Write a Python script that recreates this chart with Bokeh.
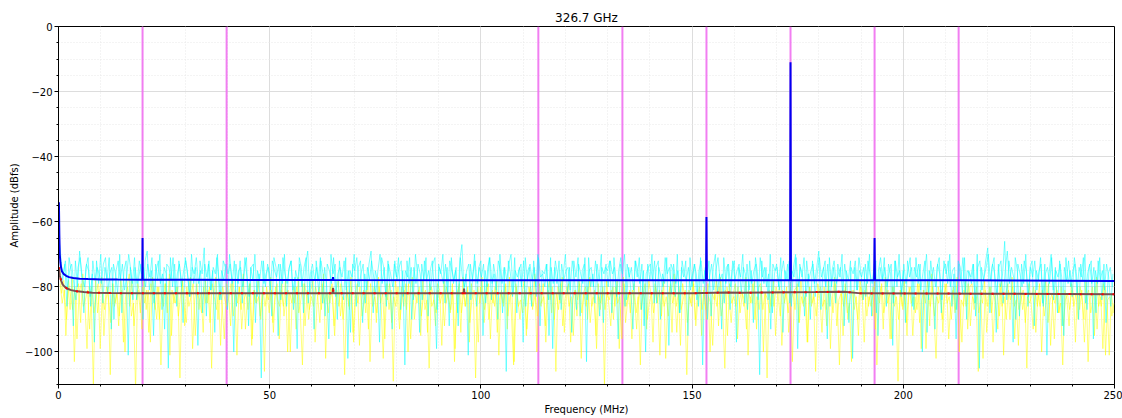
from bokeh.plotting import figure
from bokeh.models import FixedTicker, CustomJSTickFormatter, Range1d
from bokeh.embed import file_html
from bokeh.resources import INLINE

# ---------------- data ----------------
title_text = "326.7 GHz"
x_label = "Frequency (MHz)"
y_label = "Amplitude (dBfs)"
x_min, x_max = 0, 250
y_min, y_max = -110, 0
x_ticks = [0, 50, 100, 150, 200, 250]
y_ticks = [-100, -80, -60, -40, -20, 0]
noise_step = 0.5  # MHz between samples of each noisy trace

# noisy trace A (cyan), 10 MHz per row
cyan_vals = [
    -64, -70, -78, -73, -86, -71, -75, -92, -72, -80, -69, -77, -88, -74, -71, -83, -76, -97, -72, -79,
    -70, -85, -74, -78, -71, -93, -73, -76, -82, -70, -88, -75, -72, -101, -74, -79, -71, -84, -77, -73,
    -90, -72, -69, -81, -75, -95, -73, -78, -70, -87, -74, -76, -105, -71, -80, -73, -86, -72, -77, -91,
    -71, -75, -83, -70, -79, -74, -98, -72, -76, -68, -89, -73, -81, -75, -94, -71, -78, -84, -72, -74,
    -87, -70, -77, -100, -73, -79, -72, -85, -75, -71, -92, -74, -78, -70, -83, -76, -108, -72, -80, -73,
    -76, -89, -71, -74, -95, -73, -79, -70, -86, -75, -72, -81, -77, -99, -71, -74, -88, -73, -69, -82,
    -75, -93, -72, -78, -71, -85, -74, -80, -96, -70, -76, -73, -90, -72, -79, -84, -71, -102, -75, -77,
    -70, -86, -74, -72, -91, -76, -81, -73, -69, -88, -75, -78, -97, -71, -74, -83, -72, -80, -93, -73,
    -77, -71, -87, -75, -104, -72, -79, -74, -84, -70, -76, -94, -73, -78, -71, -89, -75, -72, -82, -99,
    -73, -76, -70, -85, -74, -92, -71, -79, -75, -88, -72, -67, -81, -76, -101, -73, -78, -70, -86, -74,
    -72, -95, -75, -80, -71, -84, -73, -77, -90, -70, -79, -74, -106, -72, -76, -83, -71, -88, -75, -73,
    -97, -71, -78, -74, -86, -72, -80, -70, -92, -75, -76, -73, -84, -71, -99, -74, -79, -72, -87, -76,
    -70, -82, -74, -94, -72, -77, -71, -89, -75, -73, -103, -71, -80, -76, -85, -73, -78, -70, -91, -74,
    -75, -72, -88, -71, -79, -96, -73, -76, -70, -84, -74, -81, -93, -72, -77, -71, -87, -75, -100, -73,
    -78, -70, -85, -74, -72, -90, -76, -79, -71, -98, -73, -75, -83, -70, -88, -74, -77, -72, -95, -71,
    -80, -73, -76, -86, -71, -104, -75, -78, -72, -89, -74, -70, -82, -76, -93, -71, -79, -73, -87, -75,
    -72, -97, -74, -77, -70, -85, -73, -81, -75, -91, -71, -76, -107, -72, -79, -74, -84, -70, -88, -76,
    -73, -80, -71, -94, -75, -78, -72, -86, -74, -70, -99, -73, -77, -71, -83, -76, -90, -72, -79, -74,
    -69, -87, -75, -72, -96, -71, -80, -74, -85, -73, -77, -70, -92, -75, -78, -72, -102, -74, -81, -71,
    -76, -84, -73, -79, -70, -89, -75, -72, -95, -74, -78, -71, -86, -73, -76, -98, -72, -80, -70, -83,
    -75, -91, -72, -77, -74, -87, -71, -79, -73, -100, -76, -70, -84, -72, -78, -93, -74, -71, -88, -75,
    -73, -79, -70, -86, -76, -96, -72, -74, -82, -71, -90, -75, -77, -73, -85, -70, -105, -74, -78, -72,
    -68, -88, -74, -71, -94, -73, -80, -76, -66, -84, -72, -77, -97, -71, -75, -89, -73, -79, -70, -86,
    -74, -72, -92, -75, -78, -71, -85, -73, -101, -76, -70, -81, -74, -88, -72, -77, -95, -71, -79, -75,
    -83, -71, -76, -90, -73, -78, -70, -87, -74, -72, -96, -75, -79, -71, -84, -73, -91, -76, -74, -80,
]
# noisy trace B (cyan), 10 MHz per row
cyan2_vals = [
    -68, -74, -76, -72, -81, -75, -73, -79, -84, -74, -71, -77, -80, -73, -75, -86, -72, -78, -74, -76,
    -79, -73, -71, -82, -76, -74, -90, -75, -72, -78, -73, -81, -77, -70, -75, -84, -74, -79, -72, -76,
    -74, -80, -73, -77, -71, -85, -75, -72, -79, -76, -93, -73, -74, -78, -71, -82, -76, -73, -80, -75,
    -72, -77, -83, -74, -76, -71, -79, -75, -88, -73, -77, -72, -81, -74, -76, -70, -84, -75, -78, -73,
    -76, -73, -79, -72, -86, -75, -74, -80, -71, -77, -83, -74, -73, -91, -75, -78, -72, -79, -76, -74,
    -81, -72, -75, -77, -73, -84, -71, -76, -79, -74, -72, -87, -75, -78, -73, -80, -74, -71, -85, -76,
    -73, -78, -74, -82, -72, -76, -89, -73, -75, -79, -71, -83, -76, -74, -77, -72, -81, -75, -94, -73,
    -75, -71, -80, -76, -73, -85, -74, -78, -72, -77, -82, -75, -70, -79, -74, -86, -73, -76, -80, -72,
    -78, -74, -72, -83, -75, -77, -71, -90, -74, -79, -73, -76, -84, -72, -78, -75, -81, -73, -71, -87,
    -74, -76, -79, -73, -82, -72, -75, -78, -74, -92, -71, -77, -80, -75, -73, -84, -76, -72, -79, -74,
    -77, -73, -85, -74, -71, -79, -76, -81, -72, -75, -88, -74, -78, -73, -70, -82, -75, -77, -74, -80,
    -72, -86, -75, -73, -78, -74, -83, -71, -77, -76, -80, -73, -95, -74, -79, -72, -76, -84, -73, -78,
    -75, -74, -81, -72, -77, -87, -73, -76, -79, -71, -84, -75, -74, -80, -72, -78, -89, -74, -76, -73,
    -80, -72, -76, -74, -83, -75, -71, -78, -86, -73, -77, -74, -81, -72, -75, -79, -73, -92, -76, -74,
    -73, -78, -72, -85, -74, -77, -80, -71, -76, -74, -82, -73, -79, -75, -88, -72, -76, -78, -74, -81,
    -76, -73, -84, -75, -72, -79, -74, -90, -77, -73, -81, -75, -71, -78, -76, -85, -74, -73, -80, -72,
    -78, -75, -73, -82, -74, -76, -87, -72, -79, -75, -73, -84, -71, -77, -74, -80, -76, -93, -73, -75,
    -74, -81, -76, -72, -78, -73, -85, -75, -77, -71, -80, -74, -76, -89, -72, -78, -75, -73, -83, -76,
    -71, -77, -74, -80, -73, -86, -75, -72, -79, -76, -74, -82, -73, -78, -91, -74, -76, -72, -81, -75,
    -77, -74, -83, -72, -76, -79, -73, -88, -75, -71, -78, -74, -80, -76, -73, -85, -72, -77, -75, -82,
    -73, -79, -75, -71, -86, -74, -77, -73, -81, -76, -72, -94, -75, -78, -74, -80, -73, -76, -84, -72,
    -76, -72, -80, -75, -74, -87, -73, -78, -71, -82, -75, -76, -79, -73, -89, -74, -72, -81, -77, -74,
    -70, -78, -73, -76, -82, -74, -72, -85, -75, -69, -79, -74, -77, -90, -73, -76, -80, -72, -75, -83,
    -74, -77, -72, -81, -75, -73, -86, -76, -74, -79, -71, -84, -75, -77, -73, -92, -74, -78, -72, -80,
    -75, -73, -82, -74, -77, -71, -85, -76, -73, -79, -74, -88, -72, -78, -75, -81, -73, -77, -86, -76,
]
# noisy trace C (yellow), 10 MHz per row
yellow_vals = [
    -74, -82, -78, -95, -80, -87, -77, -103, -83, -79, -91, -76, -85, -99, -80, -84, -110, -78, -88, -81,
    -77, -95, -84, -80, -107, -79, -86, -82, -92, -78, -83, -100, -80, -76, -89, -85, -112, -79, -82, -93,
    -78, -87, -81, -97, -77, -84, -90, -80, -104, -83, -79, -88, -76, -95, -82, -85, -80, -108, -78, -86,
    -91, -81, -77, -99, -84, -79, -87, -82, -94, -78, -85, -80, -105, -83, -77, -90, -81, -86, -96, -79,
    -82, -92, -78, -84, -101, -80, -87, -76, -93, -83, -79, -98, -81, -85, -78, -89, -82, -106, -80, -84,
    -77, -91, -83, -79, -96, -81, -86, -78, -100, -82, -85, -80, -93, -77, -88, -104, -79, -83, -90, -81,
    -78, -97, -84, -80, -87, -76, -102, -82, -85, -79, -92, -81, -78, -89, -83, -107, -80, -86, -77, -94,
    -82, -79, -98, -84, -81, -88, -78, -103, -83, -80, -91, -77, -85, -82, -96, -79, -87, -81, -109, -78,
    -84, -93, -80, -86, -79, -100, -82, -77, -90, -83, -81, -95, -78, -87, -84, -105, -80, -83, -92, -79,
    -81, -98, -78, -85, -82, -88, -79, -103, -83, -80, -94, -77, -86, -81, -97, -79, -84, -108, -80, -85,
    -77, -91, -83, -79, -96, -81, -86, -78, -101, -82, -85, -80, -93, -77, -89, -104, -79, -84, -90, -82,
    -78, -95, -84, -80, -87, -76, -100, -83, -86, -79, -92, -81, -78, -88, -82, -106, -80, -85, -77, -94,
    -83, -79, -97, -84, -81, -89, -78, -102, -82, -80, -90, -77, -86, -83, -95, -79, -87, -81, -110, -78,
    -85, -92, -80, -86, -78, -99, -82, -77, -91, -84, -81, -96, -79, -88, -83, -104, -80, -84, -93, -78,
    -82, -97, -79, -85, -81, -89, -78, -102, -84, -80, -94, -76, -86, -82, -98, -79, -83, -107, -81, -85,
    -78, -90, -83, -80, -95, -81, -87, -79, -100, -82, -84, -78, -92, -77, -88, -105, -80, -84, -91, -82,
    -79, -96, -84, -81, -86, -77, -101, -83, -85, -78, -93, -80, -79, -87, -82, -108, -81, -86, -78, -95,
    -83, -80, -98, -85, -82, -88, -79, -103, -81, -80, -91, -78, -85, -83, -97, -80, -86, -82, -106, -79,
    -84, -94, -80, -87, -78, -99, -83, -77, -92, -84, -82, -95, -79, -88, -85, -103, -81, -84, -90, -78,
    -82, -97, -79, -86, -81, -89, -78, -104, -83, -80, -93, -77, -85, -82, -96, -80, -84, -109, -81, -86,
    -78, -91, -82, -80, -95, -83, -87, -79, -99, -81, -85, -78, -92, -76, -89, -102, -80, -83, -90, -82,
    -79, -96, -85, -81, -88, -77, -100, -84, -86, -78, -93, -80, -79, -87, -83, -106, -81, -85, -78, -94,
    -84, -80, -97, -83, -82, -89, -78, -101, -82, -79, -90, -77, -86, -84, -98, -80, -87, -82, -105, -79,
    -85, -93, -81, -86, -79, -100, -83, -78, -91, -84, -82, -96, -80, -88, -85, -104, -81, -84, -92, -79,
    -82, -97, -80, -87, -81, -90, -78, -103, -84, -80, -95, -77, -86, -83, -99, -80, -85, -101, -82, -88,
]
# noisy trace D (yellow), 10 MHz per row
yellow2_vals = [
    -79, -85, -81, -90, -78, -83, -87, -80, -96, -82, -79, -86, -84, -81, -93, -80, -88, -83, -79, -99,
    -82, -87, -80, -84, -91, -79, -85, -82, -89, -81, -97, -83, -80, -86, -78, -92, -84, -81, -88, -80,
    -85, -81, -94, -79, -83, -87, -80, -90, -82, -86, -79, -84, -101, -81, -85, -80, -89, -83, -78, -92,
    -80, -86, -83, -79, -95, -82, -84, -88, -80, -85, -81, -91, -79, -83, -87, -82, -98, -80, -84, -86,
    -83, -79, -89, -81, -85, -80, -93, -84, -82, -87, -79, -96, -81, -85, -83, -90, -80, -86, -82, -88,
    -81, -94, -80, -84, -86, -79, -89, -83, -81, -100, -82, -85, -80, -88, -84, -79, -92, -81, -87, -83,
    -86, -80, -83, -91, -79, -85, -82, -88, -80, -84, -95, -81, -86, -79, -90, -83, -82, -87, -80, -97,
    -82, -85, -80, -89, -84, -81, -93, -79, -86, -83, -88, -80, -85, -102, -82, -84, -79, -91, -83, -86,
    -80, -90, -83, -81, -87, -79, -96, -84, -82, -85, -80, -89, -83, -81, -94, -79, -86, -84, -88, -81,
    -85, -82, -92, -80, -84, -87, -81, -99, -83, -79, -88, -82, -86, -80, -91, -84, -81, -85, -97, -80,
    -83, -87, -79, -90, -82, -85, -80, -94, -84, -81, -86, -79, -89, -83, -82, -103, -80, -86, -84, -88,
    -81, -93, -80, -84, -86, -82, -89, -79, -85, -83, -97, -81, -84, -80, -90, -82, -87, -79, -92, -84,
    -80, -86, -83, -95, -81, -84, -79, -88, -82, -86, -80, -91, -84, -81, -99, -83, -85, -80, -87, -82,
    -84, -81, -90, -80, -85, -83, -96, -79, -86, -82, -88, -81, -84, -93, -80, -87, -83, -79, -90, -85,
    -82, -88, -80, -84, -101, -81, -86, -83, -89, -79, -85, -82, -94, -80, -87, -84, -81, -91, -83, -86,
    -79, -92, -84, -81, -87, -80, -90, -83, -85, -98, -82, -86, -80, -89, -84, -81, -95, -79, -85, -83,
    -86, -80, -88, -82, -84, -93, -81, -85, -79, -90, -83, -87, -80, -100, -82, -84, -88, -81, -86, -80,
    -83, -89, -81, -85, -80, -94, -84, -82, -87, -79, -91, -83, -86, -81, -97, -80, -85, -83, -89, -82,
    -80, -86, -84, -92, -81, -83, -88, -79, -85, -104, -82, -86, -80, -90, -84, -81, -87, -83, -95, -80,
    -84, -81, -89, -83, -86, -80, -93, -82, -85, -79, -88, -84, -81, -96, -80, -86, -83, -90, -81, -87,
    -82, -95, -80, -85, -83, -88, -79, -91, -84, -81, -99, -82, -86, -80, -89, -83, -85, -81, -94, -79,
    -85, -83, -90, -80, -87, -82, -84, -97, -81, -86, -79, -92, -83, -85, -80, -88, -84, -102, -81, -86,
    -80, -88, -82, -85, -93, -79, -86, -83, -90, -81, -84, -80, -96, -82, -87, -84, -81, -91, -83, -85,
    -83, -80, -94, -82, -86, -81, -89, -84, -79, -98, -83, -85, -81, -88, -80, -92, -84, -82, -87, -81,
    -86, -82, -90, -80, -85, -97, -83, -81, -88, -84, -80, -93, -82, -86, -79, -101, -84, -83, -89, -85,
]
cyan_x = [i * noise_step for i in range(len(cyan_vals))]
cyan2_x = [i * noise_step + 0.125 for i in range(len(cyan2_vals))]
yellow_x = [i * noise_step + 0.25 for i in range(len(yellow_vals))]
yellow2_x = [i * noise_step + 0.375 for i in range(len(yellow2_vals))]

# averaged spectrum (blue)
blue_x = [0.1, 0.2, 0.3, 0.45, 0.6, 0.8, 1.2, 1.8, 2.5, 3.5,
          5, 7, 10, 14, 19.85, 19.9, 19.95, 30, 50, 64.9,
          65.0, 65.1, 100, 153.3, 153.4, 153.5, 173.2, 173.3, 173.4, 193.1,
          193.2, 193.3, 213, 250]
blue_y = [-54, -64, -70, -72.5, -74, -75.2, -76, -76.6, -77, -77.3,
          -77.5, -77.6, -77.7, -77.75, -77.8, -65, -77.8, -77.8, -77.9, -77.9,
          -77, -77.9, -78, -78, -58.5, -78, -78, -11, -78, -78,
          -65, -78, -78, -78.2]

# averaged spectrum (red)
red_x = [0.1, 0.3, 0.6, 1, 1.5, 2, 3, 4, 6, 8,
         12, 20, 40, 64.9, 65, 65.1, 95.9, 96, 96.1, 130,
         150, 158, 162, 180, 186, 190, 220, 250]
red_y = [-74, -76.5, -78, -79.3, -80, -80.5, -81, -81.3, -81.6, -81.8,
         -81.9, -82, -82, -82, -80.3, -82, -82, -80.5, -82, -82,
         -82, -81.7, -81.8, -81.6, -81.5, -82, -82.1, -82.3]

# marker frequencies (magenta)
marker_freqs = [19.9, 39.8, 113.6, 133.5, 153.4, 173.3, 193.2, 213.1]

# ---------------- figure ----------------
FONT = "DejaVu Sans"
p = figure(width=1122, height=418, output_backend="svg", toolbar_location=None,
           x_range=Range1d(x_min, x_max), y_range=Range1d(y_min, y_max),
           min_border_left=58, min_border_right=8, min_border_top=26, min_border_bottom=34)
p.title.text = title_text
p.title.align = "center"
p.title.text_font = FONT
p.title.text_font_size = "12px"
p.title.text_font_style = "normal"
p.title.text_color = "black"
p.title.standoff = 3
p.background_fill_color = "white"
p.border_fill_color = "white"
p.outline_line_color = "black"
p.outline_line_width = 1

# markers (beneath the noise)
p.segment(x0=marker_freqs, y0=[y_min] * len(marker_freqs),
          x1=marker_freqs, y1=[y_max] * len(marker_freqs),
          line_color="#f070f0", line_width=2, line_alpha=0.9)

# noise traces (yellow beneath, cyan on top)
p.line(yellow_x, yellow_vals, color="#ffff00", alpha=0.5, line_width=1)
p.line(yellow2_x, yellow2_vals, color="#ffff00", alpha=0.5, line_width=1)
p.line(cyan_x, cyan_vals, color="#00ffff", alpha=0.5, line_width=1)
p.line(cyan2_x, cyan2_vals, color="#00ffff", alpha=0.5, line_width=1)

# averaged traces
p.line(red_x, red_y, color="#7a5050", line_width=2)
p.line(red_x, red_y, color="#ff0000", line_width=2, line_dash="2 9")
p.line(blue_x, blue_y, color="#0000f0", line_width=2)

# axes
fmt = CustomJSTickFormatter(code="return (tick < 0 ? '\u2212' : '') + Math.abs(tick).toFixed(0);")
p.xaxis.ticker = FixedTicker(ticks=x_ticks, minor_ticks=list(range(x_min, x_max + 1, 10)))
p.yaxis.ticker = FixedTicker(ticks=y_ticks, minor_ticks=list(range(y_min, y_max + 1, 5)))
p.xaxis.formatter = fmt
p.yaxis.formatter = fmt
for ax in (p.xaxis, p.yaxis):
    ax.major_label_text_font = FONT
    ax.major_label_text_font_size = "10px"
    ax.major_label_text_color = "black"
    ax.axis_label_text_font = FONT
    ax.axis_label_text_font_size = "10px"
    ax.axis_label_text_font_style = "normal"
    ax.axis_label_text_color = "black"
    ax.axis_line_color = "black"
    ax.major_tick_line_color = "black"
    ax.minor_tick_line_color = "black"
    ax.major_tick_out = 4
    ax.major_tick_in = 0
    ax.minor_tick_out = 2
    ax.minor_tick_in = 0
    ax.major_label_standoff = 2
    ax.axis_label_standoff = 2
p.xaxis.axis_label = x_label
p.yaxis.axis_label = y_label

# grids
for g in (p.xgrid, p.ygrid):
    g.grid_line_color = "#dddddd"
    g.grid_line_width = 1
    g.minor_grid_line_color = "#e8e8e8"
    g.minor_grid_line_dash = "1 2"
    g.minor_grid_line_width = 1

open("out.html", "w").write(file_html(p, INLINE))
